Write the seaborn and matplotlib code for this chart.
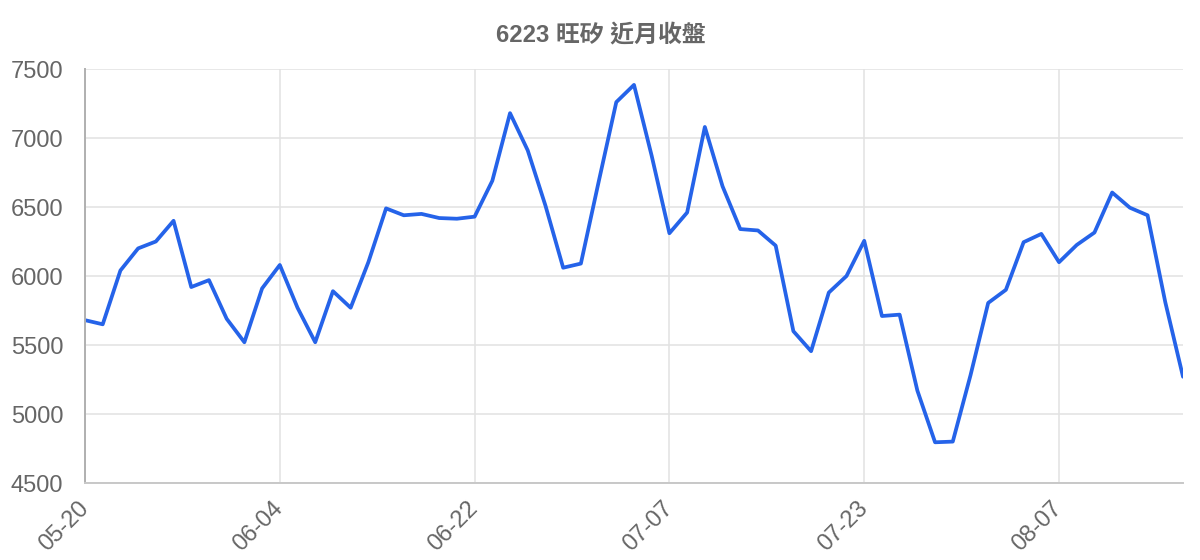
import matplotlib
matplotlib.use("Agg")
import matplotlib.pyplot as plt
import seaborn as sns

# trading days shown on the chart (MM-DD)
dates = [
    "05-20", "05-21", "05-22", "05-23", "05-24", "05-27", "05-28", "05-29", "05-30", "05-31", "06-03", "06-04",
    "06-05", "06-06", "06-07", "06-11", "06-12", "06-13", "06-14", "06-17", "06-18", "06-19", "06-22",
    "06-23", "06-24", "06-25", "06-26", "06-27", "06-28", "07-01", "07-02", "07-03", "07-04", "07-07",
    "07-08", "07-09", "07-10", "07-11", "07-14", "07-15", "07-16", "07-17", "07-18", "07-21", "07-23",
    "07-24", "07-25", "07-28", "07-29", "07-30", "07-31", "08-01", "08-04", "08-05", "08-06", "08-07",
    "08-08", "08-11", "08-12", "08-13", "08-14", "08-15", "08-18",
]

# closing prices
close = [
    5680, 5650, 6040, 6200, 6250, 6400, 5920, 5970, 5690, 5520, 5910, 6080,
    5770, 5520, 5890, 5770, 6100, 6490, 6440, 6450, 6420, 6415, 6430,
    6690, 7180, 6910, 6510, 6060, 6090, 6680, 7260, 7385, 6870, 6310,
    6460, 7080, 6650, 6340, 6330, 6220, 5600, 5455, 5880, 6000, 6255,
    5710, 5720, 5170, 4795, 4800, 5280, 5805, 5900, 6245, 6305, 6100,
    6225, 6315, 6605, 6495, 6440, 5810, 5270,
]

y_ticks = [4500, 5000, 5500, 6000, 6500, 7000, 7500]
label_step = 11
title = "6223 旺矽 近月收盤"

sns.set_theme(style="white")
plt.rcParams["font.family"] = ["Liberation Sans", "Noto Sans CJK TC", "DejaVu Sans"]

grid_c = "#e2e2e2"
text_c = "#666666"

fig = plt.figure(figsize=(12, 5.6), dpi=100)
ax = fig.add_axes([85 / 1200, 1 - 483 / 560, 1098 / 1200, 414 / 560])

pos = list(range(len(close)))
sns.lineplot(x=pos, y=close, ax=ax, color="#2563e9", linewidth=2.7)

ax.set_xlim(0, len(close) - 1)
ax.set_ylim(y_ticks[0], y_ticks[-1])
ax.set_yticks(y_ticks)
ax.set_yticklabels([str(v) for v in y_ticks])
xt = pos[::label_step]
ax.set_xticks(xt)
ax.set_xticklabels([dates[i] for i in xt], rotation=45, ha="right",
                   va="center", rotation_mode="anchor")

ax.grid(True, color=grid_c, linewidth=1.1)
ax.set_axisbelow(True)
ax.tick_params(axis="both", length=14, width=1.1, color=grid_c,
               labelcolor=text_c, labelsize=17, pad=1.5)
ax.tick_params(axis="x", pad=2)

for s in ("top", "right"):
    ax.spines[s].set_visible(False)
ax.spines["left"].set_color("#b0b0b0")
ax.spines["left"].set_linewidth(1.4)
ax.spines["bottom"].set_color("#c8c8c8")
ax.spines["bottom"].set_linewidth(1.4)
ax.set_xlabel("")
ax.set_ylabel("")

fig.text(601 / 1200, 1 - 36 / 560, title, ha="center", va="center",
         fontsize=17.2, fontweight="bold", color=text_c)

fig.savefig("out.png", dpi=100)
